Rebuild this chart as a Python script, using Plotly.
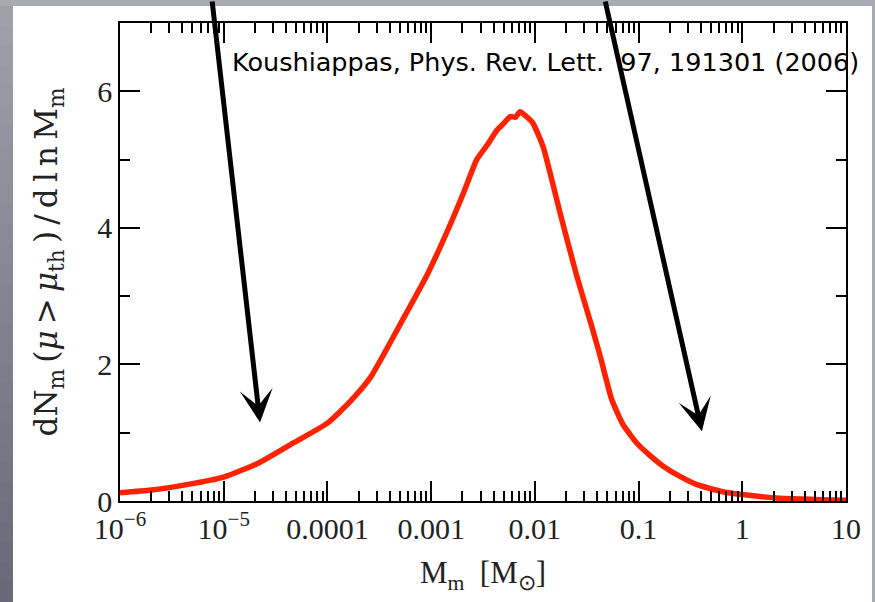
import plotly.graph_objects as go

# Data (mass in solar masses, dN/dlnM)
mass = [1e-6, 2e-6, 4.4e-6, 1e-5, 2.2e-5, 4.7e-5, 1e-4, 1.66e-4, 2.6e-4, 5e-4,
        9e-4, 1.5e-3, 2.1e-3, 2.75e-3, 3.5e-3, 4.3e-3, 5.0e-3, 5.8e-3, 6.5e-3,
        7.2e-3, 8.3e-3, 9.6e-3, 0.012, 0.0175, 0.0254, 0.0355, 0.043, 0.055,
        0.0708, 0.096, 0.126, 0.173, 0.251, 0.366, 0.631, 1.0, 2.3, 10.0]
dnd = [0.12, 0.16, 0.24, 0.35, 0.56, 0.85, 1.14, 1.46, 1.81, 2.58,
       3.29, 4.02, 4.55, 5.0, 5.22, 5.43, 5.53, 5.63, 5.62,
       5.70, 5.63, 5.53, 5.19, 4.22, 3.29, 2.55, 2.1, 1.49,
       1.12, 0.85, 0.68, 0.51, 0.36, 0.24, 0.14, 0.095, 0.04, 0.01]

xtick_vals = [1e-6, 1e-5, 1e-4, 1e-3, 1e-2, 0.1, 1, 10]
xtick_text = ["10<sup>\u22126</sup>", "10<sup>\u22125</sup>", "0.0001", "0.001",
              "0.01", "0.1", "1", "10"]
ytick_vals = [0, 2, 4, 6]

serif = "Liberation Serif"

fig = go.Figure()
fig.add_trace(go.Scatter(x=mass, y=dnd, mode="lines",
                         line=dict(color="#ff2200", width=5.5, shape="spline", smoothing=0.5),
                         showlegend=False, hoverinfo="skip"))

W, H = 875, 602
L, R, T, B = 120, 29.3, 23, 100.5
pw, ph = W - L - R, H - T - B

def px2paper_x(px):
    return (px - L) / pw

def px2paper_y(py):
    return (H - B - py) / ph

shapes = []
# white panel
shapes.append(dict(type="rect", xref="paper", yref="paper",
                   x0=px2paper_x(13), x1=px2paper_x(871.7),
                   y0=px2paper_y(6), y1=px2paper_y(610),
                   fillcolor="white", line=dict(width=0), layer="below"))
# left gradient strip
n = 30
c0 = (160, 160, 170)
c1 = (104, 104, 120)
for i in range(n):
    t = i / (n - 1)
    c = tuple(int(round(c0[k] + (c1[k] - c0[k]) * t)) for k in range(3))
    y0 = 6 + (602 - 6) * i / n
    y1 = 6 + (602 - 6) * (i + 1) / n + 1
    shapes.append(dict(type="rect", xref="paper", yref="paper",
                       x0=px2paper_x(-2), x1=px2paper_x(13),
                       y0=px2paper_y(y0), y1=px2paper_y(y1),
                       fillcolor="rgb(%d,%d,%d)" % c, line=dict(width=0), layer="below"))

annotations = [
    dict(x=-4.65, y=1.15, xref="x", yref="y", text="", showarrow=True,
         ax=-48, ay=-432, arrowhead=3, arrowwidth=5, arrowsize=1.1, arrowcolor="black"),
    dict(x=-0.389, y=1.02, xref="x", yref="y", text="", showarrow=True,
         ax=-97, ay=-442, arrowhead=3, arrowwidth=5, arrowsize=1.1, arrowcolor="black"),
    dict(x=px2paper_x(230), y=px2paper_y(62), xref="paper", yref="paper",
         xanchor="left", yanchor="middle", showarrow=False,
         text="Koushiappas, Phys. Rev. Lett.  97, 191301 (2006)",
         font=dict(family="DejaVu Sans", size=25.5, color="black")),
]

sp = "\u2009"
ytitle = ("d" + "N<sub>m</sub>" + sp + "(<i>\u03bc</i>" + sp + ">" + sp + "<i>\u03bc</i><sub>th</sub>" + sp + ")"
          + sp + "/" + sp + "d" + sp + "l" + sp + "n" + sp + "M<sub>m</sub>")

fig.update_layout(
    width=W, height=H,
    margin=dict(l=L, r=R, t=T, b=B, autoexpand=False),
    paper_bgcolor="#a9a9b1",
    plot_bgcolor="white",
    shapes=shapes,
    annotations=annotations,
    xaxis=dict(type="log", range=[-6, 1], tickvals=xtick_vals, ticktext=xtick_text,
               ticks="inside", ticklen=20, tickwidth=1.5, tickcolor="black",
               showline=True, linecolor="black", linewidth=1.5, mirror="ticks",
               showgrid=False, zeroline=False,
               minor=dict(dtick="D1", ticks="inside", ticklen=10, tickwidth=1.5,
                          tickcolor="black", showgrid=False),
               tickfont=dict(family=serif, size=30, color="#222"),
               title=dict(text="M<sub>m</sub>  [M<sub>\u2299</sub>]",
                          font=dict(family=serif, size=31, color="#222"), standoff=18)),
    yaxis=dict(range=[0, 7], tickvals=ytick_vals,
               ticks="inside", ticklen=20, tickwidth=1.5, tickcolor="black",
               showline=True, linecolor="black", linewidth=1.5, mirror="ticks",
               showgrid=False, zeroline=False,
               minor=dict(dtick=1, ticks="inside", ticklen=10, tickwidth=1.5,
                          tickcolor="black", showgrid=False),
               tickfont=dict(family=serif, size=30, color="#222"),
               title=dict(text=ytitle,
                          font=dict(family="DejaVu Serif", size=31, color="#222"), standoff=30)),
)

fig.write_html("out.html", config={"displayModeBar": False},
               post_script="document.body.style.margin='0px';document.body.style.background='#a9a9b1';")
